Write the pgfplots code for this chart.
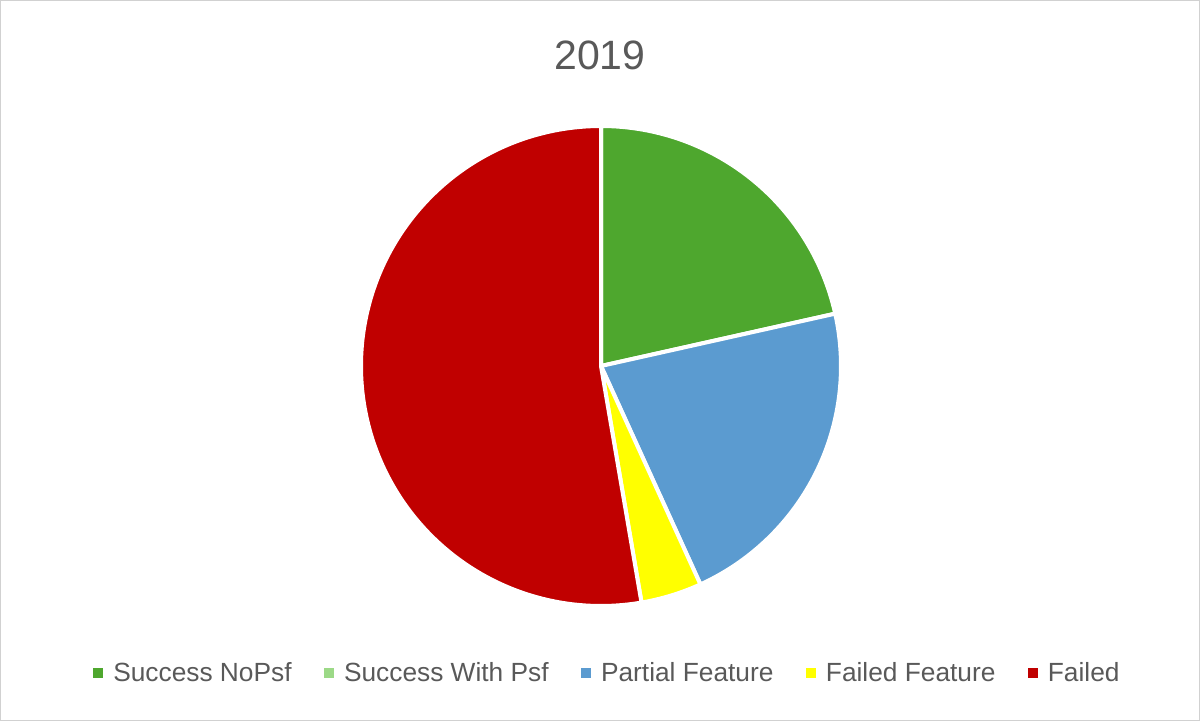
\documentclass[border=0pt]{standalone}
\usepackage{pgfplots}
\usepackage{pgfplotstable}
\pgfplotsset{compat=1.18}
\usepackage{fontspec}
\setmainfont{Liberation Sans}

\definecolor{cA}{HTML}{4EA72E}
\definecolor{cB}{HTML}{9CD987}
\definecolor{cC}{HTML}{5B9BD0}
\definecolor{cD}{HTML}{FFFF00}
\definecolor{cE}{HTML}{C00000}
\definecolor{txt}{HTML}{595959}

% share of each category (percent)
\pgfplotstableread{
label value
SuccessNoPsf 21.5
SuccessWithPsf 0
PartialFeature 21.7
FailedFeature 4.1
Failed 52.7
}\piedata

\pgfplotstablegetelem{0}{value}\of\piedata \let\vA\pgfplotsretval
\pgfplotstablegetelem{1}{value}\of\piedata \let\vB\pgfplotsretval
\pgfplotstablegetelem{2}{value}\of\piedata \let\vC\pgfplotsretval
\pgfplotstablegetelem{3}{value}\of\piedata \let\vD\pgfplotsretval
\pgfplotstablegetelem{4}{value}\of\piedata \let\vE\pgfplotsretval

\pgfmathsetmacro{\aA}{90}
\pgfmathsetmacro{\aB}{\aA-3.6*\vA}
\pgfmathsetmacro{\aC}{\aB-3.6*\vB}
\pgfmathsetmacro{\aD}{\aC-3.6*\vC}
\pgfmathsetmacro{\aE}{\aD-3.6*\vD}
\pgfmathsetmacro{\aF}{\aE-3.6*\vE}

\begin{document}
\begin{tikzpicture}[x=1pt,y=1pt]
\path (0,0) rectangle (1200,721);
\draw[line width=1pt, draw=black!18] (0.5,0.5) rectangle (1199.5,720.5);
\node[font=\fontsize{41}{48}\selectfont, text=txt] at (600,666) {2019};
\begin{axis}[
  at={(601pt,355pt)}, anchor=center,
  width=480pt, height=480pt, scale only axis,
  hide axis, clip=false,
  xmin=-1, xmax=1, ymin=-1, ymax=1,
  legend columns=5,
  legend style={draw=none, fill=none, at={(0.5130,-0.138)}, anchor=center,
    font=\fontsize{26.3}{31}\selectfont, text=txt,
    /tikz/every odd column/.append style={column sep=9pt},
    /tikz/every even column/.append style={column sep=30pt}},
]
\addplot[forget plot, fill=cA, draw=white, line width=4pt, line join=round, domain=\aB:\aA, samples=120, variable=\t] ({cos(\t)},{sin(\t)}) -- (axis cs:0,0) -- cycle;
\addplot[forget plot, fill=cC, draw=white, line width=4pt, line join=round, domain=\aD:\aC, samples=120, variable=\t] ({cos(\t)},{sin(\t)}) -- (axis cs:0,0) -- cycle;
\addplot[forget plot, fill=cD, draw=white, line width=4pt, line join=round, domain=\aE:\aD, samples=40, variable=\t] ({cos(\t)},{sin(\t)}) -- (axis cs:0,0) -- cycle;
\addplot[forget plot, fill=cE, draw=white, line width=4pt, line join=round, domain=\aF:\aE, samples=240, variable=\t] ({cos(\t)},{sin(\t)}) -- (axis cs:0,0) -- cycle;
\addlegendimage{legend image code/.code={\fill[cA] (0pt,-4.5pt) rectangle (9pt,4.5pt);}}
\addlegendentry{Success NoPsf}
\addlegendimage{legend image code/.code={\fill[cB] (0pt,-4.5pt) rectangle (9pt,4.5pt);}}
\addlegendentry{Success With Psf}
\addlegendimage{legend image code/.code={\fill[cC] (0pt,-4.5pt) rectangle (9pt,4.5pt);}}
\addlegendentry{Partial Feature}
\addlegendimage{legend image code/.code={\fill[cD] (0pt,-4.5pt) rectangle (9pt,4.5pt);}}
\addlegendentry{Failed Feature}
\addlegendimage{legend image code/.code={\fill[cE] (0pt,-4.5pt) rectangle (9pt,4.5pt);}}
\addlegendentry{Failed}
\end{axis}
\end{tikzpicture}
\end{document}
